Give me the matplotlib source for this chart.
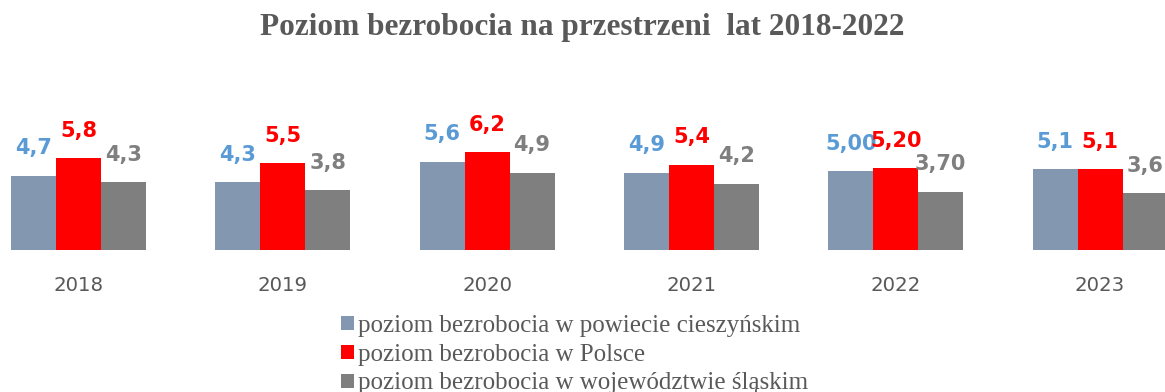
import matplotlib
matplotlib.use("Agg")
import matplotlib.pyplot as plt
from matplotlib.patches import Patch
import numpy as np

years = ["2018", "2019", "2020", "2021", "2022", "2023"]
powiat = [4.7, 4.3, 5.6, 4.9, 5.00, 5.1]
polska = [5.8, 5.5, 6.2, 5.4, 5.20, 5.1]
slaskie = [4.3, 3.8, 4.9, 4.2, 3.70, 3.6]
decimals = [1, 1, 1, 1, 2, 1]

series_names = [
    "poziom bezrobocia w powiecie cieszyńskim",
    "poziom bezrobocia w Polsce",
    "poziom bezrobocia w województwie śląskim",
]
bar_colors = ["#8497B0", "#FF0000", "#7F7F7F"]
label_colors = ["#5B9BD5", "#FF0000", "#7F7F7F"]

fig = plt.figure(figsize=(11.65, 3.92), dpi=100)
px_per_unit = 15.8
ax_bottom_px = 392 - 250
ax_height_px = 190
ax = fig.add_axes([0, ax_bottom_px / 392, 1, ax_height_px / 392])
ax.set_xlim(-0.384, 5.318)
ax.set_ylim(0, ax_height_px / px_per_unit)

x = np.arange(len(years))
w = 0.22
for i, (vals, bc, lc) in enumerate(zip([powiat, polska, slaskie], bar_colors, label_colors)):
    pos = x + (i - 1) * w
    ax.bar(pos, vals, width=w, color=bc, linewidth=0)
    for p, v, d in zip(pos, vals, decimals):
        ax.annotate(f"{v:.{d}f}".replace(".", ","), (p, v), xytext=(0, 15.3),
                    textcoords="offset points", ha="center", va="baseline",
                    fontsize=15, fontweight="bold", color=lc, family="DejaVu Sans",
                    annotation_clip=False)

ax.set_xticks(x)
ax.set_xticklabels(years, fontsize=14.2, color="#595959", family="DejaVu Sans")
ax.tick_params(axis="x", length=0, pad=19)
ax.set_yticks([])
for s in ax.spines.values():
    s.set_visible(False)
ax.patch.set_alpha(0)

fig.text(0.5, 1 - 28 / 392, "Poziom bezrobocia na przestrzeni  lat 2018-2022",
         ha="center", va="center", fontsize=22.5, fontweight="bold",
         color="#595959", family="Liberation Serif")

handles = [Patch(facecolor=c, edgecolor="none") for c in bar_colors]
fig.legend(handles, series_names, loc="upper left", bbox_to_anchor=(341 / 1165, 1 - 315 / 392),
           frameon=False, prop={"family": "Liberation Serif", "size": 18},
           labelcolor="#595959", handlelength=0.52, handleheight=0.48,
           handletextpad=0.15, labelspacing=0.27, borderpad=0, borderaxespad=0)

fig.savefig("out.png", dpi=100)
